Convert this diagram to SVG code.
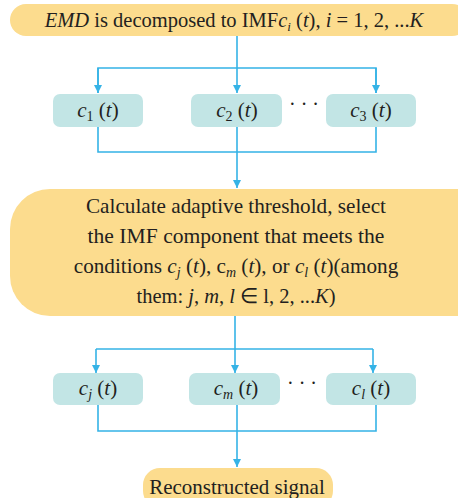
<svg xmlns="http://www.w3.org/2000/svg" width="458" height="498" viewBox="0 0 458 498">
  <defs>
    <marker id="arrow" viewBox="0 0 10 10" refX="10" refY="5" markerWidth="8" markerHeight="8" markerUnits="userSpaceOnUse" orient="auto">
      <path d="M0,0 L10,5 L0,10 z" fill="#35B3E6"/>
    </marker>
    <style>
      .yellow { fill: #FCDC8E; }
      .teal { fill: #C2E5E5; }
      .wire { fill: none; stroke: #35B3E6; stroke-width: 1.6; }
      .lbl { fill: #231F20; text-anchor: middle; }
      .it { font-style: italic; }
    </style>
  </defs>

  <rect width="458" height="498" fill="#FFFFFF"/>

  <!-- connectors -->
  <g id="connectors">
    <line class="wire" x1="237" y1="36" x2="237" y2="68"/>
    <polyline class="wire" points="98,93 98,68 376,68 376,93"/>
    <line class="wire" x1="98" y1="68" x2="98" y2="93" marker-end="url(#arrow)"/>
    <line class="wire" x1="237" y1="68" x2="237" y2="93" marker-end="url(#arrow)"/>
    <line class="wire" x1="376" y1="68" x2="376" y2="93" marker-end="url(#arrow)"/>

    <polyline class="wire" points="98,127 98,152 376,152 376,127"/>
    <line class="wire" x1="237" y1="127" x2="237" y2="188" marker-end="url(#arrow)"/>

    <line class="wire" x1="235" y1="316" x2="235" y2="349"/>
    <polyline class="wire" points="96,349 373,349"/>
    <line class="wire" x1="96" y1="349" x2="96" y2="373" marker-end="url(#arrow)"/>
    <line class="wire" x1="235" y1="349" x2="235" y2="373" marker-end="url(#arrow)"/>
    <line class="wire" x1="373" y1="349" x2="373" y2="373" marker-end="url(#arrow)"/>

    <polyline class="wire" points="98,405 98,431 376,431 376,405"/>
    <line class="wire" x1="237" y1="405" x2="237" y2="467" marker-end="url(#arrow)"/>
  </g>

  <g font-family="Liberation Serif, Times New Roman, serif">
  <!-- decomposition step -->
  <g id="emd">
    <rect class="yellow" x="10" y="4" width="458" height="32" rx="16"/>
    <text class="lbl" x="234" y="27" font-size="20.5"><tspan class="it">EMD</tspan> is decomposed to IMF<tspan class="it">c</tspan><tspan class="it" font-size="13" dy="4">i</tspan><tspan dy="-4"> (</tspan><tspan class="it">t</tspan>), <tspan class="it">i</tspan> = 1, 2, ...<tspan class="it">K</tspan></text>
  </g>

  <g id="c1">
    <rect class="teal" x="53" y="94" width="90" height="33" rx="7"/>
    <text class="lbl" x="98" y="117" font-size="21"><tspan class="it">c</tspan><tspan font-size="14" dy="4">1</tspan><tspan dy="-4"> (</tspan><tspan class="it">t</tspan>)</text>
  </g>
  <g id="c2">
    <rect class="teal" x="191" y="94" width="91" height="33" rx="7"/>
    <text class="lbl" x="237" y="117" font-size="21"><tspan class="it">c</tspan><tspan font-size="14" dy="4">2</tspan><tspan dy="-4"> (</tspan><tspan class="it">t</tspan>)</text>
  </g>
  <g id="dots1">
    <text class="lbl" x="304" y="111" font-size="20">· · ·</text>
  </g>
  <g id="c3">
    <rect class="teal" x="326" y="94" width="90" height="33" rx="7"/>
    <text class="lbl" x="371" y="117" font-size="21"><tspan class="it">c</tspan><tspan font-size="14" dy="4">3</tspan><tspan dy="-4"> (</tspan><tspan class="it">t</tspan>)</text>
  </g>

  <!-- threshold step -->
  <g id="threshold">
    <rect class="yellow" x="10" y="189" width="490" height="127" rx="40"/>
    <text class="lbl" x="236" y="213" font-size="21.2">Calculate adaptive threshold, select</text>
    <text class="lbl" x="236" y="243" font-size="21.6">the IMF component that meets the</text>
    <text class="lbl" x="236" y="273" font-size="21.2">conditions <tspan class="it">c</tspan><tspan class="it" font-size="14" dy="4">j</tspan><tspan dy="-4"> (</tspan><tspan class="it">t</tspan>), c<tspan class="it" font-size="14" dy="4">m</tspan><tspan dy="-4"> (</tspan><tspan class="it">t</tspan>), or <tspan class="it">c</tspan><tspan class="it" font-size="14" dy="4">l</tspan><tspan dy="-4"> (</tspan><tspan class="it">t</tspan>)(among</text>
    <text class="lbl" x="236" y="303" font-size="20.5">them: <tspan class="it">j</tspan>, <tspan class="it">m</tspan>, <tspan class="it">l</tspan> ∈ l, 2, ...<tspan class="it">K</tspan>)</text>
  </g>

  <g id="cj">
    <rect class="teal" x="53" y="373" width="90" height="32" rx="7"/>
    <text class="lbl" x="98" y="395" font-size="21"><tspan class="it">c</tspan><tspan class="it" font-size="14" dy="4">j</tspan><tspan dy="-4"> (</tspan><tspan class="it">t</tspan>)</text>
  </g>
  <g id="cm">
    <rect class="teal" x="189" y="373" width="91" height="32" rx="7"/>
    <text class="lbl" x="236" y="395" font-size="21"><tspan class="it">c</tspan><tspan class="it" font-size="14" dy="4">m</tspan><tspan dy="-4"> (</tspan><tspan class="it">t</tspan>)</text>
  </g>
  <g id="dots2">
    <text class="lbl" x="302" y="390" font-size="20">· · ·</text>
  </g>
  <g id="cl">
    <rect class="teal" x="326" y="373" width="90" height="32" rx="7"/>
    <text class="lbl" x="371" y="395" font-size="21"><tspan class="it">c</tspan><tspan class="it" font-size="14" dy="4">l</tspan><tspan dy="-4"> (</tspan><tspan class="it">t</tspan>)</text>
  </g>

  <!-- output -->
  <g id="reconstructed">
    <rect class="yellow" x="143" y="468" width="190" height="40" rx="17"/>
    <text class="lbl" x="237" y="494" font-size="21">Reconstructed signal</text>
  </g>
  </g>
</svg>
